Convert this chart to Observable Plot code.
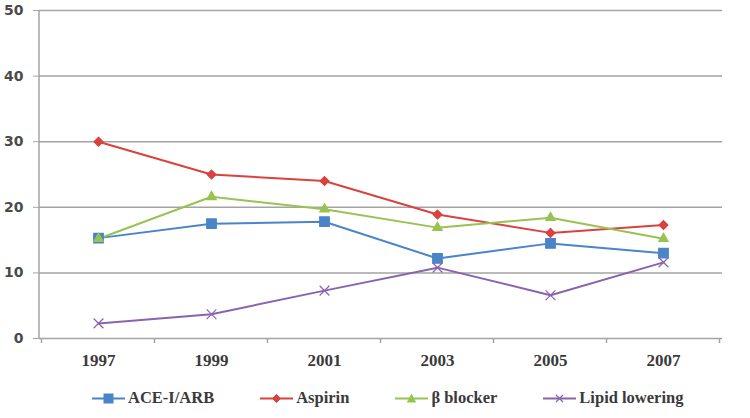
<!DOCTYPE html>
<html><head><meta charset="utf-8">
<script src="https://cdn.jsdelivr.net/npm/d3@7"></script>
<script src="https://cdn.jsdelivr.net/npm/@observablehq/plot@0.6"></script>
<style>
body{margin:0;background:#fff;}
#chart{width:750px;height:418px;position:relative;background:#fff;}
.legend{display:flex;align-items:center;padding-left:92px;gap:46px;margin-top:10px;font-family:"Liberation Serif","DejaVu Serif",serif;font-weight:bold;font-size:16.5px;color:#3a3a3a;}
.legend .item{display:flex;align-items:center;gap:3px;}
</style></head>
<body><div id="chart"></div>
<script>
const years = ["1997","1999","2001","2003","2005","2007"];
const seriesNames = ["ACE-I/ARB","Aspirin","β blocker","Lipid lowering"];
const aceArb = [15.3, 17.5, 17.8, 12.2, 14.5, 13.0];
const aspirin = [30.0, 25.0, 24.0, 18.9, 16.1, 17.3];
const betaBlocker = [15.2, 21.6, 19.7, 16.9, 18.4, 15.2];
const lipidLowering = [2.3, 3.7, 7.3, 10.8, 6.6, 11.6];
const yTicks = [0, 10, 20, 30, 40, 50];
const colors = ["#4a84c9", "#d9423e", "#98c353", "#8a63b0"];
const symbols = ["square", "diamond2", "triangle", "times"];
const markerR = [5.4, 4, 3.5, 4.5];

const seriesValues = [aceArb, aspirin, betaBlocker, lipidLowering];
const data = seriesNames.flatMap((s, i) => years.map((y, j) => ({series: s, year: y, value: seriesValues[i][j]})));

const plot = Plot.plot({
  width: 750, height: 378,
  marginLeft: 39, marginRight: 28, marginTop: 10, marginBottom: 40,
  x: {type: "point", domain: years, padding: 0.5, label: null},
  y: {domain: [0, 50], label: null},
  color: {domain: seriesNames, range: colors},
  symbol: {domain: seriesNames, range: symbols},
  style: {background: "white", overflow: "visible"},
  marks: [
    Plot.gridY(yTicks, {stroke: "#a3a3a3", strokeOpacity: 1, strokeWidth: 1.5}),
    Plot.axisY(yTicks, {tickSize: 6, stroke: "#a3a3a3", tickPadding: 10, fontSize: 14, fontWeight: "bold", fontFamily: "DejaVu Sans", fill: "#4a4a4a", tickFormat: d => String(d)}),
    Plot.axisX(years, {tickSize: 0, tickPadding: 15, fontSize: 17, fontWeight: "bold", fontFamily: "Liberation Serif", fill: "#3a3a3a"}),
    Plot.lineY(data, {x: "year", y: "value", z: "series", stroke: "series", strokeWidth: 2}),
    ...seriesNames.map((s, i) => Plot.dot(data, {filter: d => d.series === s, x: "year", y: "value", symbol: "series", fill: "series", stroke: "series", r: markerR[i], strokeWidth: 1.2}))
  ]
});

// frame: left axis line and band boundary ticks on x axis, from the plot's scales
const sx = plot.scale("x"), sy = plot.scale("y");
const step = sx.step;
const svg = d3.select(plot);
const left = sx.range[0];
const y0 = sy.apply(0), y50 = sy.apply(50);
const g = svg.append("g").attr("stroke", "#a3a3a3").attr("stroke-width", 1.5);
g.append("line").attr("x1", left).attr("x2", left).attr("y1", y50).attr("y2", y0);
const bounds = years.map(y => sx.apply(y) - step / 2).concat([sx.apply(years[years.length - 1]) + step / 2]);
bounds.forEach(b => g.append("line").attr("x1", b).attr("x2", b).attr("y1", y0).attr("y2", y0 + 5));
svg.selectAll("path[stroke-width='2']").style("filter", "drop-shadow(1px 2px 1.5px rgba(0,0,0,0.25))");

const chart = document.getElementById("chart");
chart.appendChild(plot);

const legend = document.createElement("div");
legend.className = "legend";
const shapeFor = {
  square: c => `<rect x="12" y="5" width="9" height="9" fill="${c}" stroke="${c}"/>`,
  diamond2: c => `<path d="M16.5 5.5 L20.5 9.5 L16.5 13.5 L12.5 9.5 Z" fill="${c}" stroke="${c}"/>`,
  triangle: c => `<path d="M16.5 5.5 L20.5 13 L12.5 13 Z" fill="${c}" stroke="${c}"/>`,
  times: c => `<path d="M13 6 L20 13 M20 6 L13 13" stroke="${c}" stroke-width="1.3"/>`
};
seriesNames.forEach((s, i) => {
  const item = document.createElement("div");
  item.className = "item";
  item.innerHTML = `<svg width="33" height="19"><line x1="0" x2="33" y1="9.5" y2="9.5" stroke="${colors[i]}" stroke-width="2"/>${shapeFor[symbols[i]](colors[i])}</svg><span>${s}</span>`;
  legend.appendChild(item);
});
chart.appendChild(legend);
</script>
</body></html>
